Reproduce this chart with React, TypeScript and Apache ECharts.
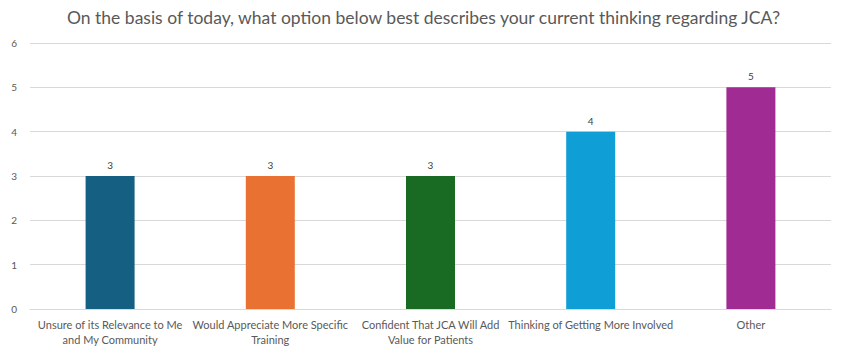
import React, { useEffect, useRef } from "react";
import * as echarts from "echarts";

const categories = [
  "Unsure of its Relevance to Me\nand My Community",
  "Would Appreciate More Specific\nTraining",
  "Confident That JCA Will Add\nValue for Patients",
  "Thinking of Getting More Involved",
  "Other",
];
const values = [3, 3, 3, 4, 5];
const colors = ["#156082", "#E97132", "#196B24", "#0F9ED5", "#A02B93"];
const title = "On the basis of today, what option below best describes your current thinking regarding JCA?";

export default function App() {
  const ref = useRef<HTMLDivElement>(null);
  useEffect(() => {
    document.body.style.margin = "0";
    if (!ref.current) return;
    const chart = echarts.init(ref.current, undefined, { renderer: "svg" });
    chart.setOption({
      animation: false,
      title: {
        text: title,
        left: 62,
        top: 3,
        textStyle: { fontFamily: "Lato", fontSize: 17.5, fontWeight: "normal", color: "#595959" },
      },
      grid: { left: 30, right: 15, top: 43, bottom: 43, containLabel: false },
      xAxis: {
        type: "category",
        data: categories,
        axisTick: { show: false },
        axisLine: { lineStyle: { color: "#d9d9d9" } },
        axisLabel: {
          interval: 0,
          color: "#595959",
          fontFamily: "Lato",
          fontSize: 11,
          lineHeight: 15,
          margin: 8,
        },
      },
      yAxis: {
        type: "value",
        min: 0,
        max: 6,
        interval: 1,
        axisLabel: { color: "#595959", fontFamily: "Lato", fontSize: 10, margin: 13 },
        splitLine: { lineStyle: { color: "#d9d9d9" } },
        axisLine: { show: false },
        axisTick: { show: false },
      },
      series: [
        {
          type: "bar",
          data: values.map((v, i) => ({ value: v, itemStyle: { color: colors[i] } })),
          barWidth: 49,
          label: {
            show: true,
            position: "top",
            distance: 6,
            color: "#404040",
            fontFamily: "Lato",
            fontSize: 10,
          },
        },
      ],
    });
    return () => chart.dispose();
  }, []);
  return <div ref={ref} style={{ width: 846, height: 352 }} />;
}
